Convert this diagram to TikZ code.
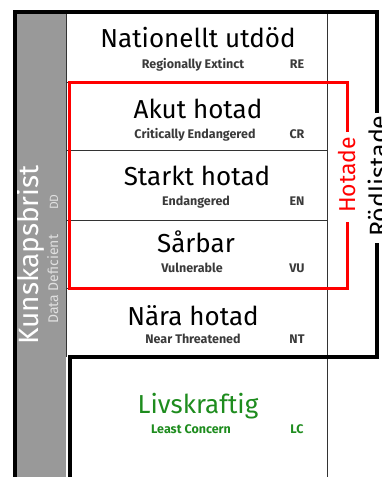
\documentclass[tikz,border=0pt]{standalone}
\usepackage{fontspec}
\setmainfont{Fira Sans}
\definecolor{colgray}{HTML}{999999}
\definecolor{subgray}{HTML}{3A3A3A}
\definecolor{lcgreen}{HTML}{1E8C1E}
\definecolor{ddtext}{HTML}{E0E0E0}
\begin{document}
\begin{tikzpicture}[x=1pt,y=-1pt,
  ttl/.style={anchor=base, inner sep=0pt, font=\fontsize{26}{26}\selectfont},
  sub/.style={anchor=base, inner sep=0pt, font=\bfseries\fontsize{12.5}{12.5}\selectfont, text=subgray},
  abbr/.style={anchor=base, inner sep=0pt, font=\bfseries\fontsize{12.5}{12.5}\selectfont, text=subgray},
  grid/.style={draw=black!80, line width=0.9pt},
  thick frame/.style={draw=black, line width=4.5pt},
  redframe/.style={draw=red, line width=3pt},
  vtext/.style={rotate=90, anchor=base west, inner sep=0pt}]
\useasboundingbox (0,0) rectangle (382,477);
% grey DD column
\fill[colgray] (15,12) rectangle (66,477);
% table lines
\draw[grid] (66,12) -- (66,357);
\draw[grid] (327,12) -- (327,477);
\draw[grid] (66,82) -- (327,82);
\draw[grid] (66,150) -- (327,150);
\draw[grid] (66,220) -- (327,220);
\draw[grid] (66,288) -- (327,288);
% rows
\node[ttl] (re) at (198,47) {Nationellt utdöd};
\node[sub] (res) at (193,68) {Regionally Extinct};
\node[abbr] (rea) at (297,68) {RE};
\node[ttl] (cr) at (198,118) {Akut hotad};
\node[sub] (crs) at (195,138) {Critically Endangered};
\node[abbr] (cra) at (297,138) {CR};
\node[ttl] (en) at (197,185) {Starkt hotad};
\node[sub] (ens) at (196,205) {Endangered};
\node[abbr] (ena) at (297,205) {EN};
\node[ttl] (vu) at (196,252) {Sårbar};
\node[sub] (vus) at (192,272) {Vulnerable};
\node[abbr] (vua) at (297,272) {VU};
\node[ttl] (nt) at (193,325) {Nära hotad};
\node[sub] (nts) at (193,343) {Near Threatened};
\node[abbr] (nta) at (297,343) {NT};
\node[ttl, text=lcgreen] (lc) at (198,413) {Livskraftig};
\node[sub, text=lcgreen] (lcs) at (191,433) {Least Concern};
\node[abbr, text=lcgreen] (lca) at (297,433) {LC};
% DD column texts
\node[vtext, text=white, font=\fontsize{28}{28}\selectfont] (dd) at (38,345) {Kunskapsbrist};
\node[vtext, text=ddtext, font=\fontsize{14}{14}\selectfont] (dds) at (58,324) {Data Deficient};
\node[vtext, text=ddtext, font=\fontsize{12}{12}\selectfont] (dda) at (58,210) {DD};
% Hotade bracket
\node[vtext, text=red, font=\fontsize{23}{23}\selectfont] (hot) at (355,213) {Hotade};
\coordinate (h1) at (347,132);
\coordinate (h2) at (347,222);
\draw[redframe] (h1) -- (347,82) -- (69,82) -- (69,288) -- (347,288) -- (h2);
% Rödlistade bracket
\node[vtext, text=black, font=\fontsize{25}{25}\selectfont] (rod) at (387,237) {Rödlistade};
\coordinate (r1) at (377,113);
\coordinate (r2) at (377,243);
\draw[thick frame] (r1) -- (377,12) -- (15,12) -- (15,477);
\draw[thick frame] (r2) -- (377,357) -- (70,357) -- (70,477);
\end{tikzpicture}
\end{document}
